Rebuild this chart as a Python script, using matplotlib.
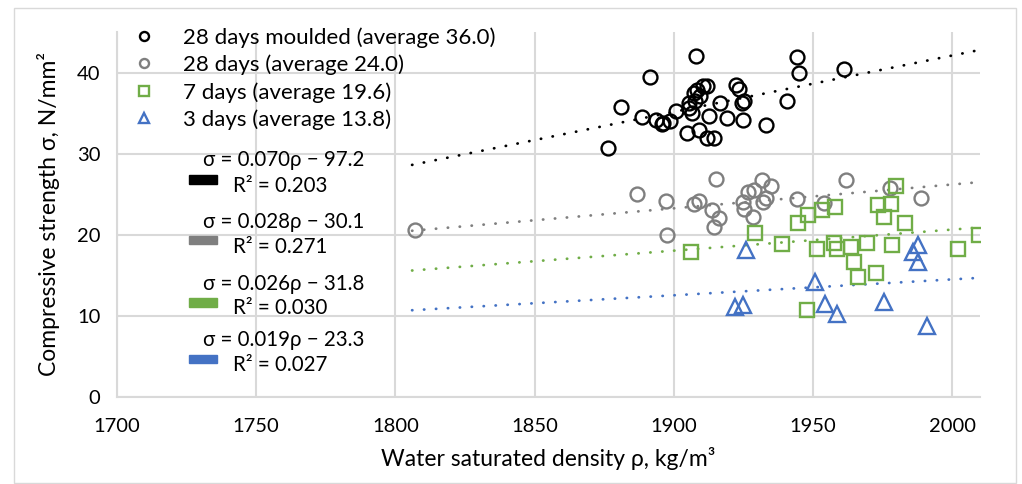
import numpy as np
import matplotlib.pyplot as plt
from matplotlib.patches import Rectangle

plt.rcParams['font.family'] = ['Lato', 'Noto Sans', 'DejaVu Sans']

# 28 days moulded
m28_rho = [1876.4, 1881.0, 1891.5, 1888.5, 1893.7, 1895.7, 1898.7, 1900.9, 1908.0,
           1904.9, 1908.9, 1911.9, 1914.5, 1912.5, 1919.0, 1925.0, 1933.2, 1940.6,
           1944.4, 1944.9, 1961.0, 1905.3, 1905.6, 1906.5, 1907.1, 1908.3, 1909.5,
           1907.7, 1910.4, 1911.9, 1916.7, 1922.4, 1923.3, 1924.4, 1925.3, 1896.3]
m28_sig = [30.7, 35.8, 39.5, 34.5, 34.1, 33.6, 34.0, 35.2, 42.0,
           32.5, 32.9, 31.9, 31.9, 34.6, 34.4, 34.2, 33.5, 36.5,
           41.9, 40.0, 40.4, 36.2, 35.6, 35.0, 37.5, 37.9, 37.1,
           36.5, 38.3, 38.4, 36.3, 38.5, 38.0, 36.3, 36.5, 33.8]

# 28 days
d28_rho = [1807.0, 1886.7, 1897.3, 1897.5, 1907.4, 1908.9, 1915.2, 1913.7, 1916.1,
           1914.3, 1925.0, 1925.3, 1926.6, 1928.9, 1931.6, 1935.0, 1933.2, 1932.0,
           1928.6, 1944.4, 1953.8, 1961.8, 1977.8, 1988.8]
d28_sig = [20.6, 25.0, 24.2, 20.0, 23.8, 24.2, 26.9, 23.1, 22.1,
           21.0, 24.0, 23.2, 25.3, 25.5, 26.7, 26.0, 24.5, 24.0,
           22.2, 24.4, 23.9, 26.7, 25.8, 24.5]

# 7 days
d7_rho = [1906.3, 1929.3, 1938.9, 1944.7, 1948.3, 1953.3, 1958.0, 1951.6, 1957.7,
          1958.7, 1963.7, 1964.8, 1966.0, 1969.3, 1972.5, 1973.4, 1975.6, 1978.0,
          1979.9, 1978.5, 1983.0, 1948.0, 2002.0, 2009.7]
d7_sig = [17.9, 20.2, 18.9, 21.4, 22.5, 23.1, 23.4, 18.2, 19.0,
          18.2, 18.5, 16.7, 14.8, 19.0, 15.3, 23.7, 22.2, 23.8,
          26.0, 18.7, 21.5, 10.7, 18.2, 20.0]

# 3 days
d3_rho = [1926.0, 1922.0, 1924.8, 1950.8, 1954.2, 1958.6, 1975.6, 1987.6, 1985.8,
          1987.7, 1990.9]
d3_sig = [18.1, 11.1, 11.4, 14.2, 11.5, 10.2, 11.7, 18.8, 17.9,
          16.7, 8.7]

# trend lines (slope, intercept) as drawn, from rho 1806 to 2010
trend_range = [1806, 2010]
trend_slope = [0.0695, 0.0294, 0.026, 0.0196]
trend_icept = [-96.9, -32.6, -31.36, -24.7]

eq_labels = ["σ = 0.070ρ − 97.2", "σ = 0.028ρ − 30.1",
             "σ = 0.026ρ − 31.8", "σ = 0.019ρ − 23.3"]
r2_labels = ["R² = 0.203", "R² = 0.271", "R² = 0.030", "R² = 0.027"]

series_labels = ["28 days moulded (average 36.0)", "28 days (average 24.0)",
                 "7 days (average 19.6)", "3 days (average 13.8)"]
colors = ["#000000", "#7F7F7F", "#70AD47", "#4472C4"]
markers = ["o", "o", "s", "^"]

W, H = 1022, 484
fig = plt.figure(figsize=(W / 100, H / 100), dpi=100)
ax = fig.add_axes([117 / W, 1 - 397 / H, (980 - 117) / W, (397 - 32) / H])

grid_c = "#D9D9D9"
ax.set_xlim(1700, 2010)
ax.set_ylim(0, 45)
ax.set_xticks(np.arange(1700, 2001, 50))
ax.set_yticks(np.arange(0, 41, 10))
ax.grid(True, color=grid_c, lw=1.5)
ax.set_axisbelow(True)
for s in ["top", "right"]:
    ax.spines[s].set_visible(False)
for s in ["left", "bottom"]:
    ax.spines[s].set_color(grid_c)
    ax.spines[s].set_linewidth(1.5)
ax.tick_params(length=0, labelsize=14.5, colors="#000000")
ax.tick_params(axis="x", pad=15)
ax.tick_params(axis="y", pad=12)

xs = [m28_rho, d28_rho, d7_rho, d3_rho]
ys = [m28_sig, d28_sig, d7_sig, d3_sig]
for x, y, c, m, lab in zip(xs, ys, colors, markers, series_labels):
    ms = 10 if m != "^" else 11
    ax.plot(x, y, m, mfc="none", mec=c, ms=ms, mew=1.7, label=lab, zorder=3)

tx = np.array(trend_range, dtype=float)
for k, a, b in zip(colors, trend_slope, trend_icept):
    ax.plot(tx, a * tx + b, color=k, lw=2.0, ls=(0, (0.1, 4.2)),
            dash_capstyle="round", zorder=2)

ax.set_xlabel("Water saturated density ρ, kg/m³", fontsize=16.5, labelpad=9)
ax.set_ylabel("Compressive strength σ, N/mm²", fontsize=16.5, labelpad=12)

leg = ax.legend(loc="upper left", bbox_to_anchor=(133 / W, 1 - 27 / H),
                bbox_transform=fig.transFigure, frameon=False, fontsize=16,
                markerscale=0.65, handlelength=1.0, handletextpad=1.25,
                borderpad=0, borderaxespad=0, labelspacing=0.31)

# trendline equation labels
eq_y = [160.5, 221.5, 283.5, 340.0]
for i, (c, eq, r2) in enumerate(zip(colors, eq_labels, r2_labels)):
    fig.text(284 / W, 1 - eq_y[i] / H, eq, fontsize=14.8, ha="center", va="center")
    fig.text(233 / W, 1 - (eq_y[i] + 25) / H, r2, fontsize=14.8, ha="left", va="center")
    fig.patches.append(Rectangle((189 / W, 1 - (eq_y[i] + 23) / H), 28 / W, 8.5 / H,
                                 transform=fig.transFigure, color=c, figure=fig))

# chart area border
fig.patches.append(Rectangle((14 / W, 1 / H), (1016 - 14) / W, (476 - 1) / H,
                             transform=fig.transFigure, fill=False, ec="#D9D9D9",
                             lw=1.0, figure=fig))

fig.savefig("out.png", dpi=100)
